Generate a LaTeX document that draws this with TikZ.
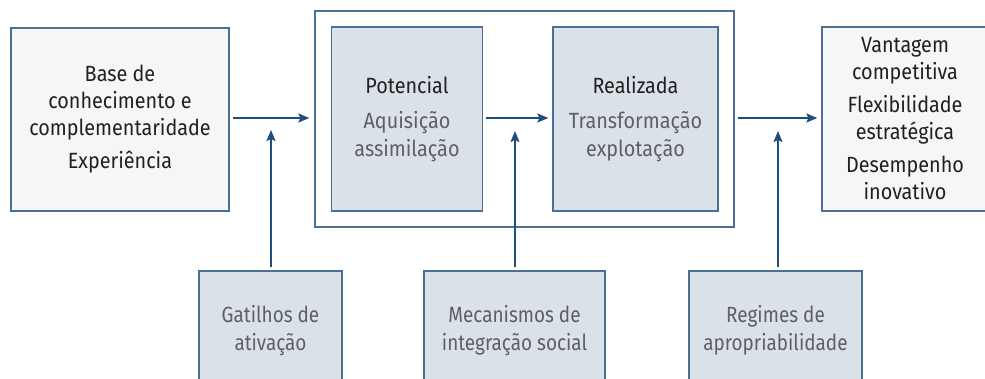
\documentclass[tikz,border=0pt]{standalone}
\usepackage{fontspec}
\setmainfont{Fira Sans}[FakeStretch=0.9]
\newfontfamily\lightfont{Fira Sans}[FakeStretch=0.9]
\newfontfamily\condlight{Fira Sans}[FakeStretch=0.86]
\usetikzlibrary{arrows.meta}
\definecolor{bordc}{HTML}{4C7094}
\definecolor{arrc}{HTML}{1F4E7A}
\definecolor{palefill}{HTML}{F5F6F8}
\definecolor{grayfill}{HTML}{DAE1E8}
\definecolor{titlec}{HTML}{231F20}
\definecolor{subc}{HTML}{5E5F62}
\tikzset{
  box/.style={draw=bordc, line width=1.3pt, align=center, inner sep=0pt,
              font=\fontsize{22}{27}\selectfont},
  pale/.style={box, fill=palefill, text=titlec},
  graybox/.style={box, fill=grayfill, text=subc},
  frame/.style={draw=bordc, line width=1.3pt, fill=white},
  conn/.style={draw=arrc, line width=1.5pt,
               -{Stealth[length=11pt,width=9pt,inset=2pt]}},
}
\newcommand{\ttl}[1]{{\normalfont\color{titlec}#1}}
\begin{document}
\begin{tikzpicture}[x=1pt,y=-1pt]
\useasboundingbox (0,0) rectangle (985,378);
\clip (0,0) rectangle (985,378);
% outer frame
\node[frame, minimum width=419pt, minimum height=216pt] (frame) at (524.5,119) {};
% main boxes
\node[pale, minimum width=218pt, minimum height=183pt] (base) at (120,119.5)
  {Base de\\conhecimento e\\complementaridade\\[6pt]Experiência};
\node[graybox, minimum width=151pt, minimum height=184pt, font=\fontsize{22}{28}\lightfont] (pot) at (407,119)
  {\ttl{Potencial}\\[7pt]Aquisição\\assimilação};
\node[graybox, minimum width=165pt, minimum height=184pt, font=\fontsize{22}{28}\lightfont] (real) at (635.5,119)
  {\ttl{Realizada}\\[7pt]Transformação\\explotação};
\node[pale, minimum width=166pt, minimum height=184pt] (out) at (905,119)
  {Vantagem\\competitiva\\[6pt]Flexibilidade\\estratégica\\[6pt]Desempenho\\inovativo};
% bottom boxes
\node[graybox, minimum width=143pt, minimum height=119pt, font=\fontsize{22}{28}\condlight] (gat) at (270.5,330.5)
  {Gatilhos de\\ativação};
\node[graybox, minimum width=181pt, minimum height=119pt, font=\fontsize{22}{28}\condlight] (mec) at (514.5,330.5)
  {Mecanismos de\\integração social};
\node[graybox, minimum width=173pt, minimum height=119pt, font=\fontsize{22}{28}\condlight] (reg) at (775.5,330.5)
  {Regimes de\\apropriabilidade};
% horizontal connectors
\draw[conn, shorten <=3pt, shorten >=5pt] (base.east |- 0,118) -- (frame.west |- 0,118);
\draw[conn, shorten <=3pt, shorten >=4pt] (pot.east |- 0,118) -- (real.west |- 0,118);
\draw[conn, shorten <=3pt, shorten >=4pt] (frame.east |- 0,118) -- (out.west |- 0,118);
% vertical connectors
\coordinate (tg) at (271,130);
\coordinate (tm) at (515,131);
\coordinate (tr) at (778,131);
\draw[conn, shorten <=3pt] (gat.north -| tg) -- (tg);
\draw[conn, shorten <=3pt] (mec.north -| tm) -- (tm);
\draw[conn, shorten <=3pt] (reg.north -| tr) -- (tr);
\end{tikzpicture}
\end{document}
